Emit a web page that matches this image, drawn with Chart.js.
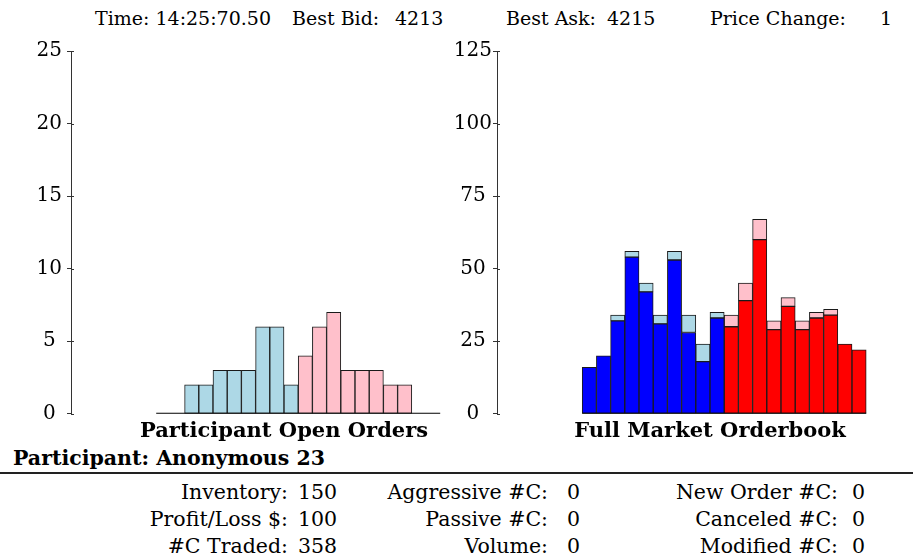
<!DOCTYPE html>
<html><head><meta charset="utf-8">
<script src="https://cdn.jsdelivr.net/npm/chart.js@4.4.0/dist/chart.umd.min.js"></script>
<style>
html,body{margin:0;padding:0;background:#fff;width:913px;height:560px;overflow:hidden;position:relative;}
.t{position:absolute;white-space:nowrap;color:#000;}
.hdr{font-family:"DejaVu Serif",serif;font-size:19px;top:6px;line-height:24px;}
.ftr{font-family:"DejaVu Serif",serif;font-size:20.5px;line-height:24px;}
.ttl{font-family:"DejaVu Serif",serif;font-weight:bold;font-size:20.5px;line-height:24px;}
#c1{position:absolute;left:0;top:0;}
#c2{position:absolute;left:430px;top:0;}
.rule{position:absolute;left:0;top:472px;width:913px;height:2px;background:#222;}
</style></head>
<body>
<span class="t hdr" style="left:95px">Time: 14:25:70.50</span>
<span class="t hdr" style="left:292px">Best Bid:</span>
<span class="t hdr" style="left:395px">4213</span>
<span class="t hdr" style="left:506px">Best Ask:</span>
<span class="t hdr" style="left:607px">4215</span>
<span class="t hdr" style="left:710px">Price Change:</span>
<span class="t hdr" style="left:880px">1</span>

<canvas id="c1" width="497" height="444"></canvas>
<canvas id="c2" width="493" height="444"></canvas>

<span class="t ttl" style="left:13px;top:446px">Participant: Anonymous 23</span>
<div class="rule"></div>

<span class="t ftr" style="right:625px;top:480px">Inventory:</span>
<span class="t ftr" style="left:298px;top:480px">150</span>
<span class="t ftr" style="right:625px;top:507px">Profit/Loss $:</span>
<span class="t ftr" style="left:298px;top:507px">100</span>
<span class="t ftr" style="right:625px;top:534px">#C Traded:</span>
<span class="t ftr" style="left:298px;top:534px">358</span>

<span class="t ftr" style="right:365px;top:480px">Aggressive #C:</span>
<span class="t ftr" style="left:567px;top:480px">0</span>
<span class="t ftr" style="right:365px;top:507px">Passive #C:</span>
<span class="t ftr" style="left:567px;top:507px">0</span>
<span class="t ftr" style="right:365px;top:534px">Volume:</span>
<span class="t ftr" style="left:567px;top:534px">0</span>

<span class="t ftr" style="right:75px;top:480px">New Order #C:</span>
<span class="t ftr" style="left:852px;top:480px">0</span>
<span class="t ftr" style="right:75px;top:507px">Canceled #C:</span>
<span class="t ftr" style="left:852px;top:507px">0</span>
<span class="t ftr" style="right:75px;top:534px">Modified #C:</span>
<span class="t ftr" style="left:852px;top:534px">0</span>

<script>
// price-level slots (bid side then ask side)
const bidSlots = [0,1,2,3,4,5,6,7,8,9];
const askSlots = [10,11,12,13,14,15,16,17,18,19];
// participant open orders per slot
const participantBids = [0,0,2,2,3,3,3,6,6,2];
const participantAsks = [4,6,7,3,3,3,2,2,0,0];
// rest of the market orderbook per slot (excluding participant)
const marketBids = [16,20,32,54,42,31,53,28,18,33];
const marketAsks = [30,39,60,29,37,29,33,34,24,22];
// y tick settings
const leftTicks = [0,5,10,15,20,25];
const rightTicks = [0,25,50,75,100,125];
const xMin = -6, xMax = 24;

const pts = (slots, vals) => slots.map((s,i)=>({x:s+0.5, y:vals[i]}));
const baseline = () => ({type:'line', data:[{x:bidSlots[0],y:0},{x:askSlots[askSlots.length-1]+1,y:0}],
  borderColor:'#000', borderWidth:2, pointRadius:0, order:-1});
const barStyle = {borderColor:'#1a1a1a', borderWidth:1, borderSkipped:false, barPercentage:1, categoryPercentage:1, stack:'s'};

const innerTicks = {id:'innerTicks', afterDraw(chart){
  const y = chart.scales.y, ctx = chart.ctx, x0 = chart.chartArea.left;
  ctx.save(); ctx.strokeStyle='#333'; ctx.lineWidth=1;
  y.ticks.forEach(t=>{ const py=Math.round(y.getPixelForValue(t.value))+0.5;
    ctx.beginPath(); ctx.moveTo(x0,py); ctx.lineTo(x0+3,py); ctx.stroke(); });
  ctx.restore();
}};

function makeChart(id, datasets, ticks, yWidth, tickPad, title){
  return new Chart(document.getElementById(id), {
    type:'bar',
    data:{datasets},
    options:{
      responsive:false, animation:false, devicePixelRatio:1,
      layout:{padding:{top:51,left:0,right:0,bottom:0}},
      plugins:{legend:{display:false}, tooltip:{enabled:false},
        title:{display:true, text:title, position:'bottom', fullSize:false, color:'#000',
          font:{family:'DejaVu Serif', weight:'bold', size:21, lineHeight:1.2}, padding:{top:5,bottom:0}}},
      scales:{
        x:{type:'linear', min:xMin, max:xMax, offset:false, stacked:true, display:false, grid:{offset:false}},
        y:{min:ticks[0], max:ticks[ticks.length-1], stacked:true,
          afterFit:s=>{s.width=yWidth;},
          ticks:{stepSize:ticks[1]-ticks[0], color:'#000', font:{family:'DejaVu Serif', size:20}, crossAlign:'center', padding:tickPad},
          grid:{drawOnChartArea:false, tickLength:4, color:'#333', tickWidth:1},
          border:{color:'#333', width:1}}
      }
    },
    plugins:[innerTicks]
  });
}

makeChart('c1', [
  Object.assign({data:pts(bidSlots, participantBids), backgroundColor:'#ADD8E6'}, barStyle),
  Object.assign({data:pts(askSlots, participantAsks), backgroundColor:'#FFC0CB'}, barStyle),
  baseline()
], leftTicks, 71, 5, 'Participant Open Orders');

makeChart('c2', [
  Object.assign({data:pts(bidSlots, marketBids), backgroundColor:'#0000FF'}, barStyle),
  Object.assign({data:pts(bidSlots, participantBids), backgroundColor:'#ADD8E6'}, barStyle),
  Object.assign({data:pts(askSlots, marketAsks), backgroundColor:'#FF0000'}, barStyle),
  Object.assign({data:pts(askSlots, participantAsks), backgroundColor:'#FFC0CB'}, barStyle),
  baseline()
], rightTicks, 67, 1, 'Full Market Orderbook');
</script>
</body></html>
